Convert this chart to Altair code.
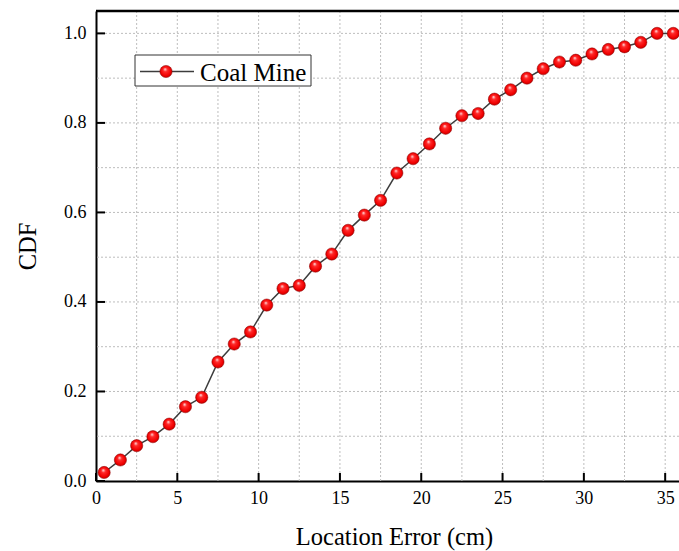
import altair as alt
import pandas as pd

# Location error bins (cm) and cumulative distribution for the coal mine test
error_cm = [0.5, 1.5, 2.5, 3.5, 4.5, 5.5, 6.5, 7.5, 8.5, 9.5, 10.5, 11.5,
            12.5, 13.5, 14.5, 15.5, 16.5, 17.5, 18.5, 19.5, 20.5, 21.5, 22.5, 23.5,
            24.5, 25.5, 26.5, 27.5, 28.5, 29.5, 30.5, 31.5, 32.5, 33.5, 34.5, 35.5]
cdf = [0.019, 0.047, 0.079, 0.099, 0.127, 0.166, 0.187, 0.266, 0.306, 0.333, 0.393, 0.430,
       0.437, 0.480, 0.507, 0.560, 0.594, 0.627, 0.688, 0.720, 0.753, 0.788, 0.816, 0.821,
       0.853, 0.874, 0.900, 0.921, 0.936, 0.940, 0.954, 0.964, 0.970, 0.980, 1.000, 1.000]

x_major = [0, 5, 10, 15, 20, 25, 30, 35]
y_major = [0.0, 0.2, 0.4, 0.6, 0.8, 1.0]
x_grid = [2.5, 5, 7.5, 10, 12.5, 15, 17.5, 20, 22.5, 25, 27.5, 30, 32.5, 35]
y_grid = [0.1, 0.2, 0.3, 0.4, 0.5, 0.6, 0.7, 0.8, 0.9, 1.0]
series_name = ["Coal Mine"]

W, H = 583, 470
FONT = "Liberation Serif"

xs = alt.Scale(domain=[0, 35.85], nice=False, zero=False)
ys = alt.Scale(domain=[0, 1.05], nice=False, zero=False)

x_axis = alt.Axis(
    values=x_major, title="Location Error (cm)", grid=False, ticks=False,
    labelFlush=False, labelPadding=8,
    titleX=298, titleY=63, titleAlign="center", titleBaseline="alphabetic",
)
y_axis = alt.Axis(
    values=y_major, format=".1f", title="CDF", grid=False, ticks=False,
    labelFlush=False, labelPadding=10,
    titleAngle=270, titleX=-68, titleY=H / 2, titleAlign="center", titleBaseline="middle",
)

df = pd.DataFrame({"error": error_cm, "cdf": cdf})

# dotted grid
vgrid = alt.Chart(pd.DataFrame({"g": x_grid})).mark_rule(
    color="#bdbdbd", strokeDash=[2, 2], strokeWidth=1
).encode(x=alt.X("g:Q", scale=xs, axis=x_axis))
hgrid = alt.Chart(pd.DataFrame({"g": y_grid})).mark_rule(
    color="#bdbdbd", strokeDash=[2, 2], strokeWidth=1
).encode(y=alt.Y("g:Q", scale=ys, axis=y_axis))

# inward major ticks
xticks = alt.Chart(pd.DataFrame({"t": x_major})).mark_rule(
    color="black", strokeWidth=2
).encode(x=alt.X("t:Q", scale=xs, axis=x_axis), y=alt.value(H), y2=alt.value(H - 8))
yticks = alt.Chart(pd.DataFrame({"t": y_major})).mark_rule(
    color="black", strokeWidth=2
).encode(y=alt.Y("t:Q", scale=ys, axis=y_axis), x=alt.value(0), x2=alt.value(9))

line = alt.Chart(df).mark_line(color="#3c3c3c", strokeWidth=1.5).encode(
    x=alt.X("error:Q", scale=xs, axis=x_axis),
    y=alt.Y("cdf:Q", scale=ys, axis=y_axis),
)

sphere = alt.Gradient(
    gradient="radial",
    stops=[
        alt.GradientStop(color="#fff0f0", offset=0),
        alt.GradientStop(color="#ff2a2a", offset=0.3),
        alt.GradientStop(color="#f00000", offset=0.75),
        alt.GradientStop(color="#b00000", offset=1),
    ],
    x1=0.42, y1=0.3, r1=0, x2=0.5, y2=0.5, r2=0.55,
)

points = alt.Chart(df).mark_point(
    filled=True, shape="circle", size=150, fill=sphere, opacity=1,
    stroke="#8a0000", strokeWidth=0.5,
).encode(
    x=alt.X("error:Q", scale=xs, axis=x_axis),
    y=alt.Y("cdf:Q", scale=ys, axis=y_axis),
)

# legend box
leg_data = pd.DataFrame({"label": series_name})
leg_box = alt.Chart(leg_data).mark_rect(
    fill="white", stroke="#333333", strokeWidth=1
).encode(x=alt.value(39), x2=alt.value(215), y=alt.value(44), y2=alt.value(75))
leg_line = alt.Chart(leg_data).mark_rule(color="#3c3c3c", strokeWidth=1.5).encode(
    x=alt.value(44), x2=alt.value(98), y=alt.value(60.5)
)
leg_point = alt.Chart(leg_data).mark_point(
    filled=True, shape="circle", size=150, fill=sphere, opacity=1,
    stroke="#8a0000", strokeWidth=0.5,
).encode(x=alt.value(70), y=alt.value(60.5))
leg_text = alt.Chart(leg_data).mark_text(
    font=FONT, fontSize=25, color="black", align="left", baseline="middle"
).encode(x=alt.value(104), y=alt.value(61.5), text="label:N")

# top frame edge
top_edge = alt.Chart(leg_data).mark_rule(color="black", strokeWidth=2.5).encode(
    x=alt.value(0), x2=alt.value(W), y=alt.value(0)
)

chart = alt.layer(
    vgrid, hgrid, line, xticks, yticks, points,
    leg_box, leg_line, leg_point, leg_text, top_edge,
).properties(
    width=W, height=H,
    autosize=alt.AutoSizeParams(type="none"),
    padding={"left": 96, "top": 11, "right": 0, "bottom": 70},
).configure_view(stroke=None).configure(background="white").configure_axis(
    domainColor="black", domainWidth=2,
    labelFont=FONT, labelFontSize=18, labelColor="black",
    titleFont=FONT, titleFontSize=24.5, titleFontWeight="normal", titleColor="black",
)

chart.save("out.html", embed_options={"renderer": "svg", "actions": False})
